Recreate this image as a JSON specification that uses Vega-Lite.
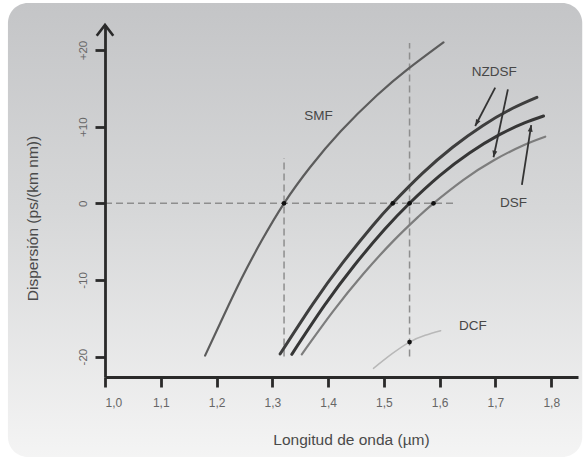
{
  "$schema": "https://vega.github.io/schema/vega-lite/v6.json",
  "width": 473,
  "height": 352,
  "autosize": {"type": "none"},
  "padding": {"left": 105, "top": 25, "right": 9, "bottom": 81},
  "background": "white",
  "config": {"view": {"stroke": null}, "font": "Liberation Sans"},
  "datasets": {
    "panel": [{"x1": 0.826, "x2": 1.8556, "y1": -33.1, "y2": 26.13}],
    "curves": [
      {"s": "SMF", "x": 1.1794, "y": -19.87},
      {"s": "SMF", "x": 1.2115, "y": -14.87},
      {"s": "SMF", "x": 1.2441, "y": -9.92},
      {"s": "SMF", "x": 1.2802, "y": -4.96},
      {"s": "SMF", "x": 1.321, "y": 0},
      {"s": "SMF", "x": 1.3677, "y": 4.7},
      {"s": "SMF", "x": 1.4226, "y": 9.39},
      {"s": "SMF", "x": 1.4877, "y": 14.09},
      {"s": "SMF", "x": 1.544, "y": 17.57},
      {"s": "SMF", "x": 1.6068, "y": 21.0},
      {"s": "NZDSF1", "x": 1.3139, "y": -19.66},
      {"s": "NZDSF1", "x": 1.3722, "y": -13.18},
      {"s": "NZDSF1", "x": 1.426, "y": -7.78},
      {"s": "NZDSF1", "x": 1.4798, "y": -2.93},
      {"s": "NZDSF1", "x": 1.5157, "y": 0},
      {"s": "NZDSF1", "x": 1.5695, "y": 3.93},
      {"s": "NZDSF1", "x": 1.6233, "y": 7.31},
      {"s": "NZDSF1", "x": 1.6771, "y": 10.13},
      {"s": "NZDSF1", "x": 1.7309, "y": 12.4},
      {"s": "NZDSF1", "x": 1.7743, "y": 13.83},
      {"s": "DSF", "x": 1.3349, "y": -19.7},
      {"s": "DSF", "x": 1.3934, "y": -13.33},
      {"s": "DSF", "x": 1.4472, "y": -8.08},
      {"s": "DSF", "x": 1.501, "y": -3.43},
      {"s": "DSF", "x": 1.546, "y": 0},
      {"s": "DSF", "x": 1.5996, "y": 3.57},
      {"s": "DSF", "x": 1.6535, "y": 6.56},
      {"s": "DSF", "x": 1.7073, "y": 8.95},
      {"s": "DSF", "x": 1.7521, "y": 10.49},
      {"s": "DSF", "x": 1.7862, "y": 11.39},
      {"s": "NZDSF2", "x": 1.3528, "y": -19.7},
      {"s": "NZDSF2", "x": 1.4095, "y": -14.04},
      {"s": "NZDSF2", "x": 1.4633, "y": -9.2},
      {"s": "NZDSF2", "x": 1.5171, "y": -4.9},
      {"s": "NZDSF2", "x": 1.562, "y": -1.73},
      {"s": "NZDSF2", "x": 1.5889, "y": 0},
      {"s": "NZDSF2", "x": 1.6427, "y": 3.06},
      {"s": "NZDSF2", "x": 1.6965, "y": 5.59},
      {"s": "NZDSF2", "x": 1.7503, "y": 7.58},
      {"s": "NZDSF2", "x": 1.7892, "y": 8.69},
      {"s": "DCF", "x": 1.4813, "y": -21.53},
      {"s": "DCF", "x": 1.5148, "y": -19.62},
      {"s": "DCF", "x": 1.546, "y": -18.1},
      {"s": "DCF", "x": 1.574, "y": -17.22},
      {"s": "DCF", "x": 1.6018, "y": -16.62}
    ],
    "guides": [
      {"x": 1.0, "y": 0, "x2": 1.628, "y2": 0},
      {"x": 1.321, "y": -20, "x2": 1.321, "y2": 5.9},
      {"x": 1.546, "y": -20, "x2": 1.546, "y2": 20.9}
    ],
    "dots": [
      {"x": 1.321, "y": 0},
      {"x": 1.516, "y": 0},
      {"x": 1.546, "y": 0},
      {"x": 1.5889, "y": 0},
      {"x": 1.546, "y": -18.1}
    ],
    "arrows": [
      {"id": "a1", "x": 1.6996, "y": 15.08, "x2": 1.6637, "y2": 10.08},
      {"id": "a2", "x": 1.7223, "y": 14.87, "x2": 1.6965, "y2": 6.0},
      {"id": "a3", "x": 1.7474, "y": 2.39, "x2": 1.7641, "y2": 10.21}
    ],
    "axisTip": [{"x": 1.0, "y": 23.26}],
    "labels": [
      {"t": "SMF", "x": 1.3826, "y": 11.39},
      {"t": "NZDSF", "x": 1.6978, "y": 17.17},
      {"t": "DSF", "x": 1.7324, "y": 0.08},
      {"t": "DCF", "x": 1.6596, "y": -16.0}
    ]
  },
  "layer": [
    {
      "data": {"name": "panel"},
      "mark": {
        "type": "rect",
        "cornerRadius": 20,
        "fill": {
          "gradient": "linear", "x1": 0, "y1": 0, "x2": 0, "y2": 1,
          "stops": [
            {"offset": 0, "color": "#c4c5c7"},
            {"offset": 0.45, "color": "#d6d7d8"},
            {"offset": 1, "color": "#f4f4f4"}
          ]
        }
      },
      "encoding": {
        "x": {
          "field": "x1", "type": "quantitative",
          "scale": {"domain": [1.0, 1.848], "nice": false, "zero": false},
          "axis": {
            "zindex": 2,
            "title": "Longitud de onda (µm)",
            "values": [1.0, 1.1, 1.2, 1.3, 1.4, 1.5, 1.6, 1.7, 1.8],
            "labelExpr": "replace(format(datum.value, '.1f'), '.', ',')",
            "grid": false,
            "domainColor": "#2a2a2a", "domainWidth": 2.8,
            "tickColor": "#2a2a2a", "tickWidth": 2.8, "tickSize": 10,
            "labelFontSize": 12, "labelColor": "#666666", "labelPadding": 10,
            "labelFont": "Liberation Sans",
            "titleFontSize": 15.5, "titleColor": "#4a4a4a", "titleFontWeight": "normal",
            "titleFont": "Liberation Sans",
            "titleX": 246, "titleY": 62, "titleAlign": "center", "titleBaseline": "middle"
          }
        },
        "x2": {"field": "x2"},
        "y": {
          "field": "y1", "type": "quantitative",
          "scale": {"domain": [-22.66, 23.26], "nice": false, "zero": false},
          "axis": {
            "zindex": 2,
            "title": "Dispersión (ps/(km nm))",
            "values": [-20, -10, 0, 10, 20],
            "labelExpr": "datum.value > 0 ? '+' + datum.value : '' + datum.value",
            "grid": false,
            "domainColor": "#2a2a2a", "domainWidth": 2.8,
            "tickColor": "#2a2a2a", "tickWidth": 2.8, "tickSize": 10,
            "labelFontSize": 11.5, "labelColor": "#666666",
            "labelAngle": 270, "labelAlign": "center", "labelBaseline": "bottom", "labelPadding": 7,
            "labelFont": "Liberation Sans",
            "titleFontSize": 15.5, "titleColor": "#4a4a4a", "titleFontWeight": "normal",
            "titleFont": "Liberation Sans",
            "titleAngle": 270, "titleX": -73, "titleY": 193, "titleAlign": "center", "titleBaseline": "middle"
          }
        },
        "y2": {"field": "y2"}
      }
    },
    {
      "data": {"name": "guides"},
      "mark": {"type": "rule", "strokeDash": [7, 4], "color": "#8e8e8e", "strokeWidth": 1.5},
      "encoding": {
        "x": {"field": "x", "type": "quantitative"},
        "x2": {"field": "x2"},
        "y": {"field": "y", "type": "quantitative"},
        "y2": {"field": "y2"}
      }
    },
    {
      "data": {"name": "curves"},
      "mark": {"type": "line", "interpolate": "natural", "strokeCap": "round"},
      "encoding": {
        "x": {"field": "x", "type": "quantitative"},
        "y": {"field": "y", "type": "quantitative"},
        "color": {
          "field": "s", "type": "nominal",
          "scale": {"domain": ["SMF", "NZDSF1", "DSF", "NZDSF2", "DCF"], "range": ["#5c5c5c", "#3e3e3e", "#363636", "#7d7d7d", "#b8b8b8"]},
          "legend": null
        },
        "strokeWidth": {
          "field": "s", "type": "ordinal",
          "scale": {"type": "ordinal", "domain": ["SMF", "NZDSF1", "DSF", "NZDSF2", "DCF"], "range": [2.2, 3, 3, 2.2, 1.5]},
          "legend": null
        }
      }
    },
    {
      "data": {"name": "dots"},
      "mark": {"type": "point", "filled": true, "size": 22, "color": "#111111", "opacity": 1},
      "encoding": {
        "x": {"field": "x", "type": "quantitative"},
        "y": {"field": "y", "type": "quantitative"}
      }
    },
    {
      "data": {"name": "arrows"},
      "mark": {"type": "rule", "color": "#333333", "strokeWidth": 1.8},
      "encoding": {
        "x": {"field": "x", "type": "quantitative"},
        "x2": {"field": "x2"},
        "y": {"field": "y", "type": "quantitative"},
        "y2": {"field": "y2"}
      }
    },
    {
      "data": {"name": "arrows"},
      "transform": [{"filter": "datum.id === 'a1'"}],
      "mark": {"type": "point", "shape": "M0,0L-0.45,1.2L0.45,1.2Z", "filled": true, "size": 120, "color": "#333333", "opacity": 1, "angle": 207.6},
      "encoding": {
        "x": {"field": "x2", "type": "quantitative"},
        "y": {"field": "y2", "type": "quantitative"}
      }
    },
    {
      "data": {"name": "arrows"},
      "transform": [{"filter": "datum.id === 'a2'"}],
      "mark": {"type": "point", "shape": "M0,0L-0.45,1.2L0.45,1.2Z", "filled": true, "size": 120, "color": "#333333", "opacity": 1, "angle": 192},
      "encoding": {
        "x": {"field": "x2", "type": "quantitative"},
        "y": {"field": "y2", "type": "quantitative"}
      }
    },
    {
      "data": {"name": "arrows"},
      "transform": [{"filter": "datum.id === 'a3'"}],
      "mark": {"type": "point", "shape": "M0,0L-0.45,1.2L0.45,1.2Z", "filled": true, "size": 120, "color": "#333333", "opacity": 1, "angle": 8.8},
      "encoding": {
        "x": {"field": "x2", "type": "quantitative"},
        "y": {"field": "y2", "type": "quantitative"}
      }
    },
    {
      "data": {"name": "axisTip"},
      "mark": {"type": "point", "shape": "M-1,1.3L0,0L1,1.3", "filled": false, "size": 275, "stroke": "#2a2a2a", "strokeWidth": 2.6, "opacity": 1},
      "encoding": {
        "x": {"field": "x", "type": "quantitative"},
        "y": {"field": "y", "type": "quantitative"}
      }
    },
    {
      "data": {"name": "labels"},
      "mark": {"type": "text", "fontSize": 13.5, "color": "#474747", "font": "Liberation Sans", "align": "center", "baseline": "middle"},
      "encoding": {
        "x": {"field": "x", "type": "quantitative"},
        "y": {"field": "y", "type": "quantitative"},
        "text": {"field": "t"}
      }
    }
  ]
}
